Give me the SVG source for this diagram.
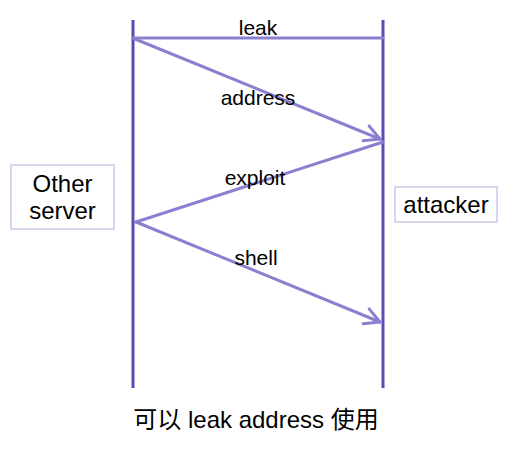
<svg xmlns="http://www.w3.org/2000/svg" width="513" height="456" viewBox="0 0 513 456">
<defs>
<marker id="arr" markerUnits="userSpaceOnUse" markerWidth="24" markerHeight="24" viewBox="-20 -12 24 24" refX="0" refY="0" orient="auto">
<polyline points="-15,-8 0,0 -15,8" fill="none" stroke="#8b80d0" stroke-width="3" stroke-linecap="round" stroke-linejoin="round"/>
</marker>
</defs>
<style>
.life{stroke:#5a4cb2;stroke-width:3;fill:none}
.msg{stroke:#8b80d0;stroke-width:3;fill:none;stroke-linecap:round}
.box{fill:#fff;stroke:#d8d5ef;stroke-width:2}
text{font-family:"Helvetica Neue","Liberation Sans",Arial,"Noto Sans CJK SC",sans-serif;fill:#000}
.lbl{font-size:21px;text-anchor:middle}
.big{font-size:24px;text-anchor:middle}
</style>
<rect width="513" height="456" fill="#fff"/>
<g id="connectors">
<line class="life" x1="133" y1="20" x2="133" y2="388"/>
<line class="life" x1="383" y1="20" x2="383" y2="388"/>
<line class="msg" x1="133" y1="38" x2="383" y2="38"/>
<line class="msg" x1="135" y1="39" x2="380" y2="139" marker-end="url(#arr)"/>
<line class="msg" x1="383" y1="142" x2="136" y2="222"/>
<line class="msg" x1="136" y1="222" x2="380" y2="322" marker-end="url(#arr)"/>
<text class="lbl" x="258" y="35">leak</text>
<text class="lbl" x="258" y="105">address</text>
<text class="lbl" x="255" y="185">exploit</text>
<text class="lbl" x="256" y="265">shell</text>
</g>
<g id="other-server">
<rect class="box" x="11" y="165" width="103" height="64"/>
<text class="big" x="62.5" y="192">Other</text>
<text class="big" x="62.5" y="219">server</text>
</g>
<g id="attacker">
<rect class="box" x="395" y="187" width="102" height="35"/>
<text class="big" x="446" y="213">attacker</text>
</g>
<g id="caption">
<text class="big" x="256" y="428">可以 leak address 使用</text>
</g>
</svg>
